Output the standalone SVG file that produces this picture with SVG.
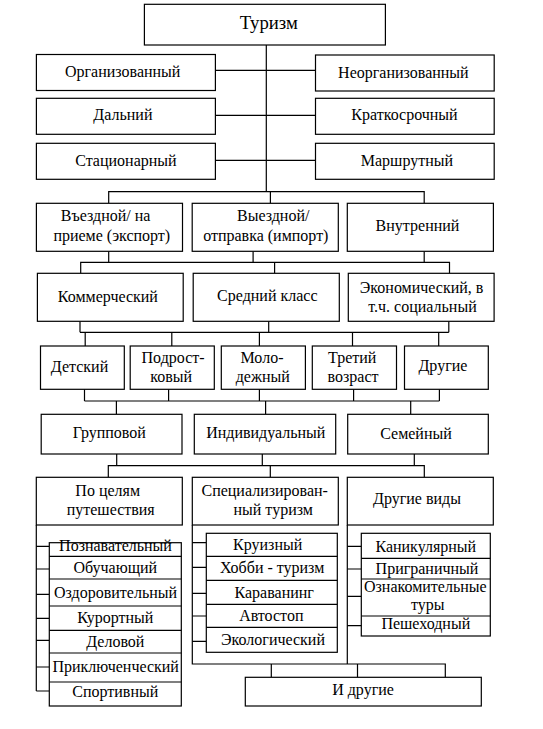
<svg xmlns="http://www.w3.org/2000/svg" width="543" height="729" viewBox="0 0 543 729">
<style>
rect{fill:#fff;stroke:#000;stroke-width:1.2}
.c line,.c path{stroke:#000;stroke-width:1.2;fill:none}
text{font-size:16px;fill:#000;text-anchor:middle}
.big{font-size:18.7px}
</style>
<rect width="543" height="729" style="fill:#fff;stroke:none"/>
<g class="c" id="connectors">
<line x1="266.3" y1="45" x2="266.3" y2="191.7"/>
<line x1="215.4" y1="70.3" x2="315.5" y2="70.3"/>
<line x1="215.4" y1="115.3" x2="315.5" y2="115.3"/>
<line x1="215.4" y1="160.3" x2="315.5" y2="160.3"/>
<path d="M108.7 203.3V191.7H424.2V203.3M270.4 191.7V203.3"/>
<path d="M108.7 251.3V262.3M253.1 251.3V262.3M424.2 251.3V262.3M80.7 273.3V262.3H449.5V273.3M274.6 262.3V273.3"/>
<path d="M80 321.3V332.3M268.7 321.3V332.3M448.8 321.3V332.3M80 332.3H448.8M85.2 332.3V346M171.8 332.3V346M259.4 332.3V346M352.5 332.3V346M438.7 332.3V346"/>
<path d="M84.5 389.3V401M168.6 389.3V401M259.4 389.3V401M353.6 389.3V401M439.4 389.3V401M84.5 401H439.4M116.4 401V414.3M265.6 401V414.3M410.7 401V414.3"/>
<path d="M116.7 454V465.7M262.3 454V465.7M414.3 454V465.7M108.3 477.3V465.7H424.3V477.3M270.3 465.7V477.3"/>
<path d="M36.3 525V691"/>
<path d="M36.3 546.3H49.3M36.3 569H49.3M36.3 594.3H49.3M36.3 618.3H49.3M36.3 640.3H49.3M36.3 667H49.3M36.3 691H49.3"/>
<path d="M192.3 525V664H445.3V677.3M347.3 525V664M271.3 664V677.3M357.5 664V677.3"/>
<path d="M192.3 542.7H206.3M192.3 567.3H206.3M192.3 593.3H206.3M192.3 616H206.3M192.3 641.3H206.3"/>
<path d="M347.3 546.3H361.3M347.3 569H361.3M347.3 596.3H361.3M347.3 625.7H362.7"/>
</g>
<g font-family="'Liberation Serif', 'Times New Roman', 'DejaVu Serif', serif">
<g id="n-tourism"><rect x="144.4" y="4.3" width="241" height="40.7"/><text class="big" x="268.7" y="29.3">Туризм</text></g>
<g id="n-org"><rect x="36.4" y="54.5" width="179" height="36"/><text x="122.7" y="77.3">Организованный</text></g>
<g id="n-neorg"><rect x="315.5" y="55" width="178.7" height="36"/><text x="403.4" y="77.7">Неорганизованный</text></g>
<g id="n-dal"><rect x="36.4" y="98.3" width="179" height="36"/><text x="122.9" y="120">Дальний</text></g>
<g id="n-krat"><rect x="315.5" y="98.3" width="178.7" height="36"/><text x="404.5" y="120">Краткосрочный</text></g>
<g id="n-stac"><rect x="36.4" y="143.3" width="179" height="36"/><text x="125.9" y="165.7">Стационарный</text></g>
<g id="n-marsh"><rect x="315.5" y="143.3" width="178.7" height="36"/><text x="406.9" y="165.7">Маршрутный</text></g>
<g id="n-vezd"><rect x="36.4" y="203.3" width="146.1" height="48"/><text x="105.6" y="220.7">Въездной/ на</text><text x="111.8" y="241">приеме (экспорт)</text></g>
<g id="n-vyezd"><rect x="192.2" y="203.3" width="146.1" height="48"/><text x="273.2" y="220.7">Выездной/</text><text x="265.8" y="241">отправка (импорт)</text></g>
<g id="n-vnutr"><rect x="347.3" y="203.3" width="146.1" height="48"/><text x="417.5" y="230.7">Внутренний</text></g>
<g id="n-komm"><rect x="37.4" y="273.3" width="145.8" height="48"/><text x="107.9" y="301.7">Коммерческий</text></g>
<g id="n-sred"><rect x="193.2" y="273.3" width="146.1" height="48"/><text x="267.3" y="300.7">Средний класс</text></g>
<g id="n-ekon"><rect x="348.3" y="273.3" width="145.8" height="48"/><text x="421.6" y="292.7">Экономический, в</text><text x="422.5" y="311.7">т.ч. социальный</text></g>
<g id="n-det"><rect x="40.5" y="346" width="83.8" height="43.3"/><text x="79.5" y="372.3">Детский</text></g>
<g id="n-podr"><rect x="130.2" y="346" width="84.1" height="43.3"/><text x="173.1" y="363.3">Подрост-</text><text x="171.1" y="381.7">ковый</text></g>
<g id="n-molo"><rect x="221.3" y="346" width="84.1" height="43.3"/><text x="262" y="363.3">Моло-</text><text x="262.8" y="381.7">дежный</text></g>
<g id="n-tret"><rect x="312.3" y="346" width="84.2" height="43.3"/><text x="352.2" y="363.3">Третий</text><text x="353" y="381.7">возраст</text></g>
<g id="n-drug"><rect x="404.5" y="346" width="83.8" height="43.3"/><text x="442.9" y="370.7">Другие</text></g>
<g id="n-grup"><rect x="41.2" y="414.3" width="140.8" height="39.7"/><text x="109.3" y="438.3">Групповой</text></g>
<g id="n-indiv"><rect x="194.3" y="414.3" width="141.4" height="39.7"/><text x="265.8" y="438.3">Индивидуальный</text></g>
<g id="n-sem"><rect x="347.7" y="414.3" width="140.6" height="39.7"/><text x="416" y="439">Семейный</text></g>
<g id="n-celi"><rect x="36.3" y="477.3" width="146" height="47.7"/><text x="107.7" y="496">По целям</text><text x="110.7" y="515">путешествия</text></g>
<g id="n-spec"><rect x="192.3" y="477.3" width="146" height="47.7"/><text x="264.7" y="496">Специализирован-</text><text x="273.2" y="515">ный туризм</text></g>
<g id="n-drvid"><rect x="347.3" y="477.3" width="146" height="47.7"/><text x="417" y="504.3">Другие виды</text></g>
<g id="n-celi-list">
<rect x="49.3" y="542.7" width="132" height="163.3"/>
<path d="M49.3 556.3H181.3M49.3 579H181.3M49.3 606H181.3M49.3 630.3H181.3M49.3 653H181.3M49.3 682H181.3" style="stroke:#000;stroke-width:1.2;fill:none"/>
<text x="115.5" y="551">Познавательный</text>
<text x="115.3" y="573.3">Обучающий</text>
<text x="115.5" y="598.3">Оздоровительный</text>
<text x="115.3" y="623.3">Курортный</text>
<text x="115.3" y="646.7">Деловой</text>
<text x="115.7" y="672.3">Приключенческий</text>
<text x="115.3" y="697.3">Спортивный</text>
</g>
<g id="n-spec-list">
<rect x="206.3" y="533.3" width="131" height="119"/>
<path d="M206.3 556.3H337.3M206.3 580.3H337.3M206.3 604.3H337.3M206.3 627.3H337.3" style="stroke:#000;stroke-width:1.2;fill:none"/>
<text x="267.7" y="550">Круизный</text>
<text x="272.2" y="572.7">Хобби - туризм</text>
<text x="274.2" y="598.3">Караванинг</text>
<text x="271.3" y="621">Автостоп</text>
<text x="273" y="645">Экологический</text>
</g>
<g id="n-drvid-list">
<rect x="361.3" y="533.3" width="129" height="102.7"/>
<path d="M361.3 558.3H490.3M361.3 579H490.3M361.3 616H490.3" style="stroke:#000;stroke-width:1.2;fill:none"/>
<text x="425.8" y="551.7">Каникулярный</text>
<text x="427" y="574">Приграничный</text>
<text x="425.3" y="592">Ознакомительные</text>
<text x="427.8" y="610">туры</text>
<text x="425.8" y="629.3">Пешеходный</text>
</g>
<g id="n-idrug"><rect x="245.3" y="677.3" width="236" height="28.7"/><text x="363" y="695">И другие</text></g>
</g>
</svg>
